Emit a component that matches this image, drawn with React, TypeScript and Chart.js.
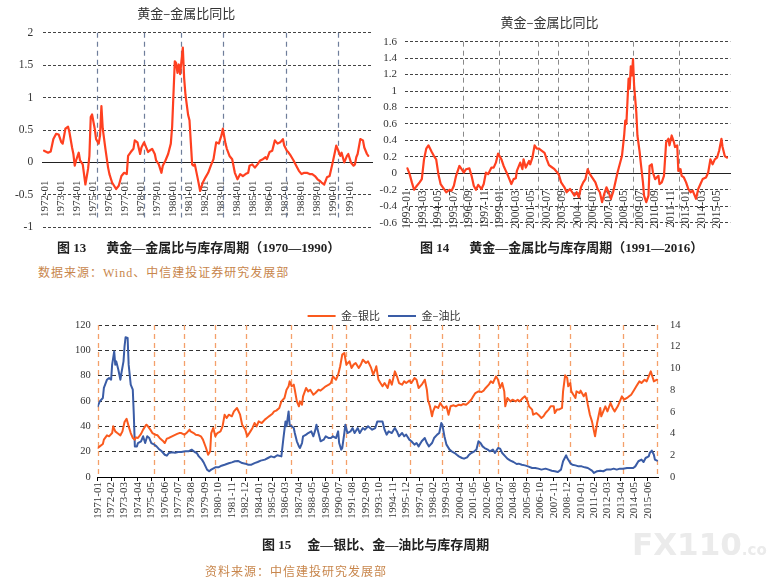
import React, { useEffect, useRef } from 'react';
import { Chart, registerables } from 'chart.js';

Chart.register(...registerables);

const SERIF = "'Liberation Serif', 'Times New Roman', serif";
const CJK = "'Noto Sans CJK SC', 'Noto Sans', sans-serif";
const MIXED = "'Liberation Serif', 'Noto Sans CJK SC', serif";

// ===================== 图13 黄金—金属比（1970—1990） =====================
const fig13Title = '黄金–金属比同比';
const fig13Start = '1972-01'; // month offsets below are counted from this month
const fig13TickLabels = [
  '1972-01', '1973-01', '1974-01', '1975-01', '1976-01', '1977-01', '1978-01', '1979-01', '1980-01', '1981-01',
  '1982-01', '1983-01', '1984-01', '1985-01', '1986-01', '1987-01', '1988-01', '1989-01', '1990-01', '1991-01',
];
const fig13Months = [
  -1, 2, 4, 6, 8, 10, 12, 13, 15, 17,
  18, 20, 21, 22, 23, 25, 26, 28, 30, 32,
  33, 34, 35, 37, 38, 40, 41, 42, 43, 45,
  47, 48, 50, 53, 55, 57, 59, 61, 62, 64,
  66, 67, 69, 71, 72, 74, 75, 77, 78, 80,
  82, 83, 85, 87, 88, 90, 92, 94, 95, 97,
  98, 99, 100, 101, 103, 104, 105, 107, 108, 110,
  111, 112, 114, 116, 118, 120, 122, 124, 126, 128,
  130, 132, 133, 135, 136, 138, 140, 142, 144, 146,
  148, 150, 152, 153, 155, 157, 159, 161, 163, 165,
  166, 168, 170, 172, 174, 176, 178, 179, 181, 182,
  184, 186, 188, 190, 192, 194, 196, 198, 200, 202,
  204, 206, 207, 209, 211, 213, 215, 217, 218, 219,
  221, 222, 224, 226, 227, 229, 231, 232, 233, 234,
  236, 238, 239, 241, 242,
];
const fig13Values = [
  0.18, 0.15, 0.17, 0.36, 0.44, 0.43, 0.31, 0.29, 0.52, 0.55,
  0.47, 0.23, 0.13, -0.05, 0.03, 0.15, 0.03, -0.03, -0.34, -0.10,
  0.10, 0.70, 0.74, 0.52, 0.36, 0.29, 0.42, 0.87, 0.52, 0.21,
  -0.08, -0.18, -0.31, -0.41, -0.36, -0.21, -0.16, -0.18, 0.10, 0.16,
  0.21, 0.34, 0.31, 0.13, 0.23, 0.31, 0.26, 0.16, 0.18, 0.21,
  0.13, 0.03, -0.03, -0.16, -0.05, 0.03, 0.13, 0.29, 0.55, 1.56,
  1.53, 1.38, 1.51, 1.36, 1.77, 1.30, 1.04, 0.73, 0.65, -0.03,
  -0.05, -0.03, -0.23, -0.44, -0.31, -0.23, -0.16, -0.05, 0.05, 0.31,
  0.29, 0.42, 0.52, 0.29, 0.21, 0.10, 0.05, -0.16, -0.26, -0.18,
  -0.21, -0.18, -0.16, -0.05, -0.03, -0.08, -0.03, 0.03, 0.05, 0.08,
  0.05, 0.16, 0.18, 0.34, 0.29, 0.31, 0.36, 0.26, 0.18, 0.16,
  0.10, 0.03, -0.05, -0.13, -0.18, -0.16, -0.16, -0.18, -0.18, -0.21,
  -0.26, -0.29, -0.31, -0.34, -0.23, -0.21, -0.03, 0.16, 0.26, 0.21,
  0.10, 0.15, 0.00, 0.10, 0.13, 0.00, -0.05, -0.03, 0.08, 0.13,
  0.36, 0.34, 0.23, 0.13, 0.10,
];
const fig13CycleDates = ['1975-04', '1978-03', '1980-07', '1983-02', '1987-01', '1990-04'];

// ===================== 图14 黄金—金属比（1991—2016） =====================
const fig14Title = '黄金–金属比同比';
const fig14Start = '1992-01';
const fig14TickLabels = [
  '1992-01', '1993-03', '1994-05', '1995-07', '1996-09', '1997-11', '1999-01', '2000-03', '2001-05', '2002-07',
  '2003-09', '2004-11', '2006-01', '2007-03', '2008-05', '2009-07', '2010-09', '2011-11', '2013-01', '2014-03',
  '2015-05',
];
const fig14Months = [
  0, 2, 4, 6, 8, 11, 13, 15, 17, 19,
  22, 24, 26, 28, 30, 33, 35, 38, 40, 42,
  44, 47, 49, 51, 53, 56, 58, 60, 62, 64,
  67, 69, 71, 73, 76, 78, 80, 82, 85, 87,
  89, 91, 94, 96, 98, 99, 102, 104, 105, 107,
  110, 111, 113, 115, 117, 119, 121, 124, 126, 128,
  130, 133, 135, 137, 139, 142, 144, 147, 149, 151,
  153, 155, 157, 159, 161, 163, 165, 167, 170, 172,
  174, 176, 178, 180, 182, 184, 186, 188, 190, 192,
  194, 196, 197, 198, 199, 200, 201, 202, 203, 204,
  205, 207, 208, 210, 211, 213, 214, 216, 218, 219,
  221, 222, 224, 227, 228, 230, 232, 234, 236, 237,
  239, 241, 242, 244, 245, 247, 248, 250, 252, 254,
  256, 258, 261, 263, 265, 267, 270, 272, 274, 276,
  278, 280, 282, 284, 285, 287, 289,
];
const fig14Values = [
  0.06, -0.01, -0.11, -0.20, -0.16, -0.11, -0.07, 0.17, 0.30, 0.34,
  0.26, 0.21, 0.17, -0.01, -0.13, -0.19, -0.23, -0.20, -0.21, -0.15,
  -0.03, 0.09, 0.05, 0.01, 0.05, 0.06, -0.03, -0.15, -0.20, -0.14,
  -0.19, -0.13, 0.01, -0.01, 0.07, 0.07, 0.13, 0.24, 0.17, 0.09,
  0.03, -0.03, -0.13, -0.07, -0.06, 0.03, 0.13, 0.05, 0.17, 0.07,
  0.15, 0.11, 0.19, 0.34, 0.30, 0.30, 0.28, 0.25, 0.17, 0.10,
  0.08, 0.05, 0.02, -0.02, -0.11, -0.17, -0.23, -0.19, -0.23, -0.27,
  -0.23, -0.29, -0.17, -0.11, -0.07, 0.05, -0.01, -0.05, -0.11, -0.19,
  -0.23, -0.35, -0.25, -0.17, -0.23, -0.31, -0.23, -0.11, 0.01, 0.11,
  0.21, 0.46, 0.64, 0.60, 0.88, 1.15, 1.03, 1.30, 1.19, 1.39,
  1.07, 0.74, 0.46, 0.26, 0.13, -0.11, -0.27, -0.35, -0.27, 0.09,
  0.11, 0.01, -0.07, -0.03, -0.13, -0.11, -0.03, 0.38, 0.42, 0.34,
  0.46, 0.38, 0.32, 0.34, 0.03, 0.05, -0.03, -0.05, -0.11, -0.19,
  -0.23, -0.21, -0.31, -0.19, -0.13, -0.07, -0.05, 0.01, 0.17, 0.11,
  0.17, 0.19, 0.28, 0.42, 0.32, 0.21, 0.19,
];
const fig14CycleDates = ['1996-03', '1998-12', '2001-11', '2003-05', '2005-08', '2009-01', '2012-07'];

// ===================== 图15 金—银比、金—油比 =====================
const fig15SeriesNames = ['金–银比', '金–油比'];
const fig15Start = '1971-01';
const fig15TickLabels = [
  '1971-01', '1972-02', '1973-03', '1974-04', '1975-05', '1976-06', '1977-07', '1978-08', '1979-09', '1980-10',
  '1981-11', '1982-12', '1984-01', '1985-02', '1986-03', '1987-04', '1988-05', '1989-06', '1990-07', '1991-08',
  '1992-09', '1993-10', '1994-11', '1995-12', '1997-01', '1998-02', '1999-03', '2000-04', '2001-05', '2002-06',
  '2003-07', '2004-08', '2005-09', '2006-10', '2007-11', '2008-12', '2010-01', '2011-02', '2012-03', '2013-04',
  '2014-05', '2015-06',
];
// 金–银比 (left axis)
const fig15SilverMonths = [
  0, 2, 5, 6, 9, 11, 14, 15, 17, 19,
  22, 24, 26, 28, 30, 32, 34, 36, 37, 39,
  42, 44, 47, 48, 51, 53, 56, 58, 60, 63,
  65, 67, 69, 72, 74, 77, 79, 81, 84, 86,
  89, 90, 93, 95, 98, 100, 102, 105, 107, 109,
  110, 112, 114, 116, 119, 121, 123, 125, 127, 130,
  132, 135, 138, 140, 143, 145, 148, 150, 152, 154,
  156, 159, 162, 164, 166, 169, 171, 173, 176, 178,
  181, 183, 185, 186, 188, 190, 191, 193, 195, 196,
  198, 199, 202, 204, 206, 209, 211, 214, 216, 219,
  221, 224, 226, 228, 231, 233, 235, 237, 239, 241,
  244, 246, 248, 250, 253, 255, 257, 260, 262, 265,
  267, 269, 270, 272, 274, 276, 278, 281, 283, 285,
  288, 290, 292, 295, 297, 299, 302, 304, 307, 309,
  311, 314, 317, 319, 320, 322, 324, 325, 327, 330,
  332, 334, 336, 338, 340, 342, 345, 347, 350, 352,
  354, 357, 359, 362, 364, 366, 369, 372, 374, 376,
  379, 381, 383, 386, 388, 390, 392, 394, 395, 397,
  400, 402, 405, 407, 409, 412, 414, 416, 418, 421,
  422, 425, 427, 430, 432, 434, 437, 439, 442, 443,
  445, 447, 450, 451, 453, 455, 456, 458, 459, 461,
  463, 464, 467, 468, 471, 473, 475, 477, 479, 480,
  482, 484, 485, 487, 488, 490, 492, 494, 497, 499,
  501, 504, 506, 508, 510, 513, 515, 517, 520, 522,
  525, 527, 530, 532, 534, 536, 538, 539, 542,
];
const fig15SilverValues = [
  22.9, 24.2, 26.0, 29.5, 32.9, 32.1, 34.7, 40.0, 36.0, 34.7,
  32.9, 36.0, 43.4, 46.0, 40.0, 34.7, 30.8, 29.5, 31.3, 30.8,
  34.0, 37.4, 41.3, 40.8, 37.4, 34.7, 33.4, 32.9, 30.8, 28.7,
  26.8, 30.3, 30.8, 32.1, 32.9, 34.0, 34.7, 34.7, 33.4, 34.7,
  37.4, 36.0, 34.7, 33.4, 32.9, 32.1, 29.5, 22.9, 17.6, 20.3,
  34.7, 38.7, 32.1, 34.7, 36.0, 40.0, 49.2, 46.6, 49.2, 47.9,
  51.8, 54.5, 49.2, 41.3, 37.4, 32.1, 36.0, 38.7, 42.6, 40.0,
  43.9, 42.6, 45.3, 46.6, 47.9, 49.7, 51.8, 52.4, 54.5, 59.7,
  62.4, 68.9, 71.6, 75.5, 71.6, 72.9, 68.9, 59.7, 55.8, 59.7,
  57.1, 63.7, 70.3, 67.6, 68.9, 65.0, 66.3, 68.9, 68.2, 70.3,
  71.6, 72.9, 74.2, 79.5, 76.8, 80.8, 87.4, 96.6, 97.9, 88.7,
  91.3, 86.1, 88.7, 90.0, 86.1, 88.7, 92.6, 90.0, 91.3, 86.1,
  80.8, 84.7, 87.4, 77.0, 74.2, 71.6, 74.2, 70.3, 76.8, 72.9,
  83.4, 79.5, 74.2, 72.9, 75.5, 74.2, 76.1, 74.2, 78.2, 76.8,
  70.3, 72.9, 76.8, 68.9, 61.0, 55.8, 47.9, 51.8, 55.8, 54.5,
  58.4, 55.8, 54.5, 55.8, 49.2, 55.8, 56.6, 55.8, 57.1, 56.6,
  57.6, 57.1, 58.4, 61.0, 63.7, 66.3, 67.6, 67.1, 68.2, 70.3,
  72.9, 75.5, 74.2, 79.5, 76.8, 70.3, 74.2, 67.6, 55.8, 62.4,
  59.7, 61.0, 59.7, 61.0, 59.7, 62.4, 63.7, 61.0, 55.8, 53.2,
  49.2, 50.5, 49.2, 46.6, 47.9, 50.5, 53.2, 55.8, 55.8, 50.5,
  53.2, 53.2, 54.5, 67.6, 80.3, 78.2, 71.6, 74.2, 67.6, 65.0,
  62.4, 67.6, 66.3, 68.2, 63.7, 66.3, 57.1, 49.2, 43.9, 40.0,
  32.1, 42.6, 46.6, 54.5, 47.9, 51.8, 55.8, 51.8, 58.4, 54.5,
  51.8, 55.8, 59.7, 63.7, 61.0, 62.4, 63.7, 65.0, 68.9, 71.6,
  75.5, 74.2, 76.8, 75.5, 79.5, 83.4, 78.2, 75.5, 76.8,
];
// 金–油比 (right axis)
const fig15OilMonths = [
  0, 2, 5, 6, 9, 11, 13, 14, 16, 17,
  18, 20, 22, 23, 25, 26, 27, 29, 30, 32,
  34, 35, 36, 38, 39, 42, 44, 46, 48, 50,
  52, 55, 57, 59, 62, 65, 67, 69, 72, 75,
  78, 81, 85, 88, 91, 94, 96, 98, 101, 103,
  106, 108, 110, 114, 117, 120, 123, 127, 130, 133,
  136, 140, 143, 146, 149, 152, 155, 158, 162, 165,
  168, 171, 174, 178, 180, 182, 183, 185, 186, 188,
  190, 191, 193, 195, 196, 198, 199, 202, 204, 207,
  209, 211, 212, 214, 216, 219, 221, 224, 226, 228,
  231, 233, 234, 236, 237, 239, 240, 242, 245, 247,
  249, 252, 254, 257, 259, 262, 264, 266, 269, 271,
  274, 276, 278, 280, 282, 285, 288, 290, 292, 295,
  297, 299, 302, 304, 307, 309, 311, 314, 317, 319,
  321, 324, 326, 329, 331, 333, 334, 336, 338, 341,
  343, 346, 348, 350, 353, 355, 358, 360, 362, 365,
  367, 369, 371, 373, 375, 378, 380, 383, 385, 388,
  390, 392, 395, 397, 400, 403, 406, 408, 411, 414,
  417, 421, 424, 427, 430, 434, 437, 440, 443, 446,
  449, 451, 454, 455, 458, 460, 463, 466, 469, 472,
  475, 479, 481, 484, 487, 490, 493, 497, 500, 503,
  506, 509, 513, 516, 519, 521, 524, 527, 529, 531,
  534, 535, 537, 539, 540, 542,
];
const fig15OilValues = [
  6.51, 6.97, 7.28, 8.20, 8.96, 9.12, 8.96, 10.35, 11.57, 10.35,
  10.65, 9.88, 8.96, 9.58, 10.65, 12.02, 12.87, 12.80, 10.35, 8.51,
  8.04, 5.74, 2.82, 2.82, 3.13, 3.29, 3.75, 3.13, 3.75, 3.59,
  3.13, 2.98, 2.82, 2.61, 2.37, 2.05, 1.96, 2.21, 2.28, 2.24,
  2.30, 2.30, 2.37, 2.37, 2.52, 2.30, 2.21, 1.90, 1.60, 1.28,
  0.68, 0.53, 0.68, 0.89, 0.89, 1.04, 1.13, 1.26, 1.35, 1.45,
  1.48, 1.28, 1.23, 1.13, 1.13, 1.28, 1.38, 1.51, 1.60, 1.75,
  1.90, 1.81, 2.00, 1.90, 3.59, 5.12, 4.67, 6.04, 4.82, 4.67,
  4.51, 4.05, 3.29, 2.82, 2.67, 3.13, 3.75, 3.90, 4.05, 4.20,
  3.75, 4.36, 4.82, 4.05, 3.29, 3.44, 3.75, 3.59, 3.59, 3.75,
  3.59, 4.20, 3.13, 2.52, 2.67, 4.05, 4.82, 4.05, 4.20, 4.51,
  4.05, 4.51, 4.05, 4.51, 4.36, 4.67, 4.51, 4.36, 4.51, 5.12,
  5.12, 5.12, 4.36, 3.90, 4.20, 4.05, 4.51, 4.20, 3.75, 4.05,
  3.75, 3.90, 3.44, 3.29, 2.98, 3.13, 2.82, 3.29, 3.59, 3.13,
  2.82, 3.13, 3.59, 3.90, 4.05, 4.97, 4.82, 3.75, 2.98, 2.52,
  2.37, 2.21, 2.05, 1.90, 1.75, 1.69, 1.81, 2.05, 2.21, 2.37,
  2.52, 3.29, 3.13, 2.82, 2.67, 2.52, 2.37, 2.52, 2.21, 2.67,
  2.61, 2.21, 1.90, 1.69, 1.51, 1.38, 1.20, 1.23, 1.13, 1.07,
  0.98, 0.83, 0.83, 0.77, 0.68, 0.77, 0.68, 0.58, 0.53, 0.46,
  0.68, 1.45, 2.00, 1.75, 1.28, 1.13, 1.07, 0.98, 0.98, 0.89,
  0.83, 0.58, 0.37, 0.53, 0.58, 0.53, 0.68, 0.68, 0.77, 0.68,
  0.77, 0.77, 0.83, 0.83, 0.83, 0.98, 1.45, 1.60, 1.38, 1.75,
  1.90, 2.21, 2.43, 2.05, 1.60, 1.51,
];
const fig15CycleDates = [
  '1971-01', '1975-08', '1978-01', '1980-07', '1983-01', '1986-08', '1989-12', '1991-02',
  '1996-04', '1998-11', '2001-11', '2003-05', '2005-09', '2009-03', '2013-06', '2016-03',
];

// ===================== helpers =====================
function monthOffset(label: string, start: string): number {
  const [y, m] = label.split('-').map(Number);
  const [sy, sm] = start.split('-').map(Number);
  return (y - sy) * 12 + (m - sm);
}
function toPoints(xs: number[], ys: number[]) {
  return xs.map((x, i) => ({ x, y: ys[i] }));
}
function plainNumber(v: any) {
  return String(Number(Number(v).toFixed(2)));
}
function makeCycleLines(cfg: { dates: string[]; start: string; color: string; dash: number[]; width: number; bottomValue?: number }) {
  return {
    id: 'cycleLines',
    beforeDatasetsDraw(chart: any) {
      const { ctx, chartArea, scales } = chart;
      const top = chartArea.top;
      const bottom = cfg.bottomValue !== undefined ? scales.y.getPixelForValue(cfg.bottomValue) : chartArea.bottom;
      ctx.save();
      ctx.strokeStyle = cfg.color;
      ctx.lineWidth = cfg.width;
      ctx.setLineDash(cfg.dash);
      cfg.dates.forEach((d) => {
        const x = Math.round(scales.x.getPixelForValue(monthOffset(d, cfg.start))) + 0.5;
        ctx.beginPath();
        ctx.moveTo(x, top);
        ctx.lineTo(x, bottom);
        ctx.stroke();
      });
      ctx.restore();
    },
  };
}
function monthTicks(labels: string[], start: string) {
  return (scale: any) => {
    scale.ticks = labels.map((l) => ({ value: monthOffset(l, start) }));
  };
}

const lineStyle = { pointRadius: 0, tension: 0, fill: false, borderJoinStyle: 'round', borderCapStyle: 'round' };

function makeFig13() {
  return {
    type: 'line',
    data: {
      datasets: [
        { label: fig13Title, data: toPoints(fig13Months, fig13Values), borderColor: '#ff4020', borderWidth: 2.2, ...lineStyle },
      ],
    },
    options: {
      responsive: false,
      animation: false,
      events: [],
      layout: { padding: { left: 0, top: 0, right: 17.7, bottom: 20.7 } },
      plugins: {
        legend: { display: false },
        tooltip: { enabled: false },
        title: {
          display: true, text: fig13Title, color: '#333',
          font: { family: CJK, size: 13, weight: 'normal' },
          padding: { top: 5.5, bottom: 11.6 },
        },
      },
      scales: {
        x: {
          type: 'linear', position: { y: 0 }, min: -2, max: 245,
          grid: { display: false },
          border: { display: true, color: '#222', width: 1 },
          afterBuildTicks: monthTicks(fig13TickLabels, fig13Start),
          ticks: {
            autoSkip: false, minRotation: 90, maxRotation: 90, padding: 10, color: '#333',
            font: { family: SERIF, size: 11 },
            callback: (_v: any, i: number) => fig13TickLabels[i],
          },
        },
        y: {
          min: -1, max: 2,
          afterFit: (s: any) => { s.width = 42.7; },
          ticks: { stepSize: 0.5, padding: 9.5, color: '#333', font: { family: SERIF, size: 11.5 }, callback: plainNumber },
          grid: { drawTicks: false, lineWidth: 1, color: (c: any) => (c.tick && c.tick.value === 0 ? 'rgba(0,0,0,0)' : '#444') },
          border: { display: false, dash: [3, 2] },
        },
      },
    },
    plugins: [makeCycleLines({ dates: fig13CycleDates, start: fig13Start, color: '#6f7e9b', dash: [5, 4], width: 1.2, bottomValue: -0.85 })],
  };
}

function makeFig14() {
  return {
    type: 'line',
    data: {
      datasets: [
        { label: fig14Title, data: toPoints(fig14Months, fig14Values), borderColor: '#ff4020', borderWidth: 2.2, ...lineStyle },
      ],
    },
    options: {
      responsive: false,
      animation: false,
      events: [],
      layout: { padding: { left: 0, top: 0, right: 4, bottom: 19.3 } },
      plugins: {
        legend: { display: false },
        tooltip: { enabled: false },
        title: {
          display: true, text: fig14Title, color: '#333',
          font: { family: CJK, size: 13, weight: 'normal' },
          padding: { top: 13.9, bottom: 12.2 },
        },
      },
      scales: {
        x: {
          type: 'linear', position: { y: 0 }, min: -2.2, max: 292,
          grid: { display: false },
          border: { display: true, color: '#222', width: 1 },
          afterBuildTicks: monthTicks(fig14TickLabels, fig14Start),
          ticks: {
            autoSkip: false, minRotation: 90, maxRotation: 90, padding: 9, color: '#333',
            font: { family: SERIF, size: 11.5 },
            callback: (_v: any, i: number) => fig14TickLabels[i],
          },
        },
        y: {
          min: -0.6, max: 1.6,
          afterFit: (s: any) => { s.width = 42; },
          ticks: { stepSize: 0.2, padding: 8, color: '#333', font: { family: SERIF, size: 11 }, callback: plainNumber },
          grid: { drawTicks: false, lineWidth: 1, color: (c: any) => (c.tick && c.tick.value === 0 ? 'rgba(0,0,0,0)' : '#444') },
          border: { display: false, dash: [3, 2] },
        },
      },
    },
    plugins: [makeCycleLines({ dates: fig14CycleDates, start: fig14Start, color: '#8a8a8a', dash: [5, 4], width: 1 })],
  };
}

function makeFig15() {
  return {
    type: 'line',
    data: {
      datasets: [
        { label: fig15SeriesNames[0], data: toPoints(fig15SilverMonths, fig15SilverValues), borderColor: '#fa5a1e', borderWidth: 2, yAxisID: 'y', ...lineStyle },
        { label: fig15SeriesNames[1], data: toPoints(fig15OilMonths, fig15OilValues), borderColor: '#3a5ca6', borderWidth: 2, yAxisID: 'y1', ...lineStyle },
      ],
    },
    options: {
      responsive: false,
      animation: false,
      events: [],
      layout: { padding: { left: 0, top: 2.5, right: 0, bottom: 0 } },
      plugins: {
        tooltip: { enabled: false },
        legend: {
          display: true, position: 'top', maxHeight: 22.5,
          labels: {
            usePointStyle: true, pointStyle: 'line', pointStyleWidth: 28, boxWidth: 28,
            padding: 8, color: '#333', font: { family: CJK, size: 11 },
          },
        },
      },
      scales: {
        x: {
          type: 'linear', position: 'bottom', min: 0, max: 543,
          afterFit: (s: any) => { s.height = 60; },
          grid: { drawOnChartArea: false, drawTicks: true, tickLength: 4, color: '#000' },
          border: { display: true, color: '#000', width: 1 },
          afterBuildTicks: monthTicks(fig15TickLabels, fig15Start),
          ticks: {
            autoSkip: false, minRotation: 90, maxRotation: 90, padding: 1, color: '#333',
            font: { family: SERIF, size: 11 },
            callback: (_v: any, i: number) => fig15TickLabels[i],
          },
        },
        y: {
          position: 'left', min: 0, max: 120,
          afterFit: (s: any) => { s.width = 27.7; },
          ticks: { stepSize: 20, padding: 7, color: '#333', font: { family: SERIF, size: 10.5 } },
          grid: { drawTicks: false, lineWidth: 1, color: (c: any) => (c.tick && c.tick.value === 0 ? 'rgba(0,0,0,0)' : '#333') },
          border: { display: false, dash: [4, 3] },
        },
        y1: {
          position: 'right', min: 0, max: 14,
          afterFit: (s: any) => { s.width = 40; },
          ticks: { stepSize: 2, padding: 4, color: '#333', font: { family: SERIF, size: 10.5 } },
          grid: { display: false },
          border: { display: false },
        },
      },
    },
    plugins: [makeCycleLines({ dates: fig15CycleDates, start: fig15Start, color: '#f4a06a', dash: [5, 4], width: 1.3 })],
  };
}

function ChartBox(props: { left: number; top: number; width: number; height: number; make: () => any }) {
  const ref = useRef<HTMLCanvasElement | null>(null);
  useEffect(() => {
    if (!ref.current) return;
    const chart = new Chart(ref.current, props.make());
    return () => chart.destroy();
  }, []);
  const { left, top, width, height } = props;
  return (
    <div style={{ position: 'absolute', left, top, width, height }}>
      <canvas ref={ref} width={width} height={height} style={{ width, height, display: 'block' }} />
    </div>
  );
}

const captionStyle: React.CSSProperties = {
  position: 'absolute', whiteSpace: 'nowrap', fontFamily: MIXED, fontWeight: 'bold',
  fontSize: 13, lineHeight: '18px', color: '#222',
};
const sourceStyle: React.CSSProperties = {
  position: 'absolute', whiteSpace: 'nowrap', fontFamily: MIXED, fontSize: 12,
  lineHeight: '18px', color: '#c8864c', letterSpacing: 1,
};

export default function App() {
  return (
    <div style={{ position: 'absolute', left: 0, top: 0, width: 767, height: 582, background: '#fff', overflow: 'hidden' }}>
      <ChartBox left={0} top={0} width={390} height={248} make={makeFig13} />
      <ChartBox left={363} top={0} width={377} height={242} make={makeFig14} />
      <ChartBox left={70} top={300} width={628} height={237} make={makeFig15} />

      <div style={{ ...captionStyle, left: 57, top: 239 }}>
        图 13<span style={{ marginLeft: 20 }}>黄金—金属比与库存周期（1970—1990）</span>
      </div>
      <div style={{ ...captionStyle, left: 420, top: 239 }}>
        图 14<span style={{ marginLeft: 20 }}>黄金—金属比与库存周期（1991—2016）</span>
      </div>
      <div style={{ ...sourceStyle, left: 38, top: 264 }}>数据来源：Wind、中信建投证券研究发展部</div>

      <div style={{ ...captionStyle, left: 262, top: 536 }}>
        图 15<span style={{ marginLeft: 16 }}>金—银比、金—油比与库存周期</span>
      </div>
      <div style={{ ...sourceStyle, left: 205, top: 563 }}>资料来源：中信建投研究发展部</div>

      <div style={{ position: 'absolute', left: 632, top: 524, whiteSpace: 'nowrap', color: '#ebebeb', fontFamily: "'DejaVu Sans', sans-serif", fontWeight: 'bold', lineHeight: '40px' }}>
        <span style={{ fontSize: 31 }}>FX110</span>
        <span style={{ fontSize: 15 }}>.com</span>
      </div>
    </div>
  );
}
